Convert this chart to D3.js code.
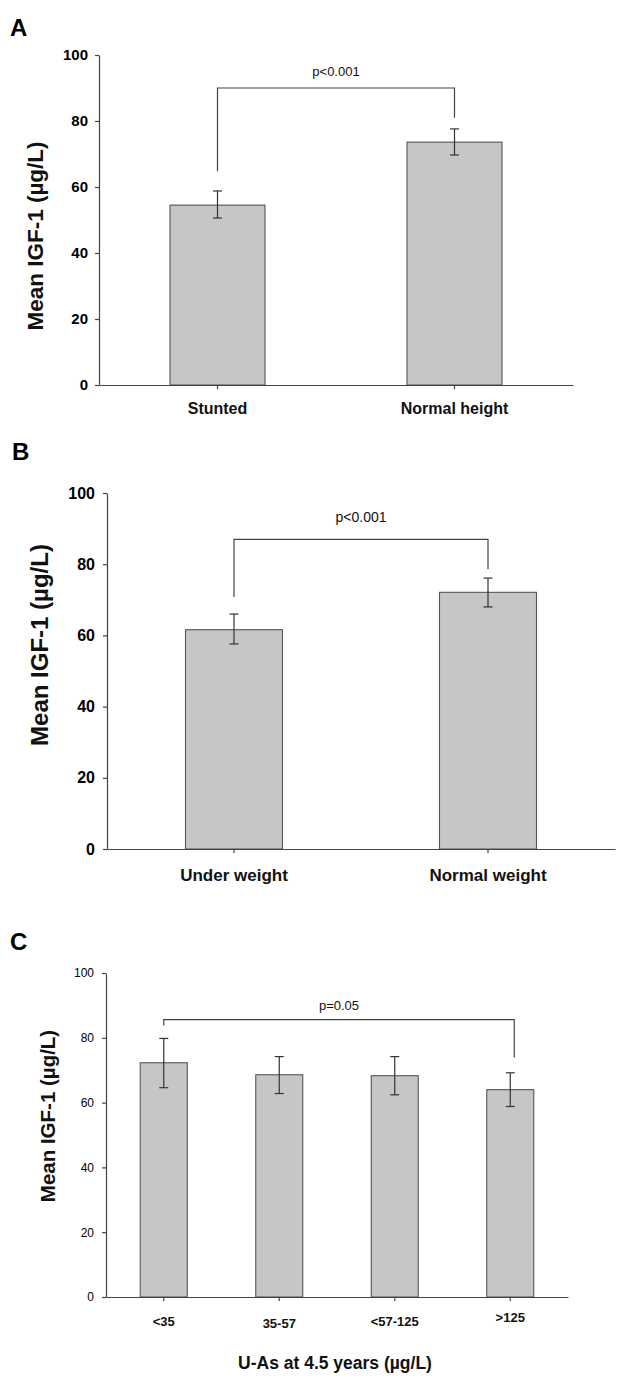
<!DOCTYPE html>
<html><head><meta charset="utf-8">
<script src="https://cdn.jsdelivr.net/npm/d3@7"></script>
<style>
html,body{margin:0;padding:0;background:#fff;}
svg{display:block;font-family:"Liberation Sans",Arial,sans-serif;}
</style></head>
<body>
<script>
// ---- data ----
const yTicks = [0, 20, 40, 60, 80, 100];

const catsA = ["Stunted", "Normal height"];
const meanA = [54.5, 73.6];
const lowA  = [50.6, 69.7];
const highA = [58.8, 77.6];
const bracketA = {label: "p<0.001", level: 90, leftEnd: 64.8, rightEnd: 81.0};

const catsB = ["Under weight", "Normal weight"];
const meanB = [61.6, 72.1];
const lowB  = [57.6, 68.0];
const highB = [66.0, 76.1];
const bracketB = {label: "p<0.001", level: 87, leftEnd: 70.8, rightEnd: 78.6};

const catsC = ["<35", "35-57", "<57-125", ">125"];
const meanC = [72.3, 68.6, 68.3, 64.0];
const lowC  = [64.6, 62.8, 62.4, 58.8];
const highC = [79.8, 74.2, 74.2, 69.2];
const bracketC = {label: "p=0.05", level: 85.6, leftEnd: 83.8, rightEnd: 73.9};

const yTitle = "Mean IGF-1 (\u00b5g/L)";
const xTitleC = "U-As at 4.5 years (\u00b5g/L)";

// ---- drawing ----
const W = 622, H = 1378;
const svg = d3.select("body").append("svg").attr("width", W).attr("height", H);
svg.append("rect").attr("width", W).attr("height", H).attr("fill", "#fff");

function panel(o) {
  const g = svg.append("g");
  const xc = d3.scaleBand().domain(o.cats).range([o.x0, o.x1]);
  const y = d3.scaleLinear().domain([0, 100]).range([o.y0, o.y100]);
  const cx = c => xc(c) + xc.bandwidth() / 2;

  // panel letter
  g.append("text").attr("x", o.letterX).attr("y", o.letterY)
    .attr("font-size", o.letterSize).attr("font-weight", "bold").text(o.letter);

  // bars
  g.selectAll("rect.bar").data(o.cats).join("rect")
    .attr("x", c => cx(c) - o.barW / 2).attr("width", o.barW)
    .attr("y", (c, i) => y(o.mean[i])).attr("height", (c, i) => y(0) - y(o.mean[i]))
    .attr("fill", "#c6c6c6").attr("stroke", "#555").attr("stroke-width", 1.1);

  // error bars
  const eb = g.selectAll("g.eb").data(o.cats).join("g");
  eb.append("line").attr("x1", c => cx(c)).attr("x2", c => cx(c))
    .attr("y1", (c, i) => y(o.low[i])).attr("y2", (c, i) => y(o.high[i]));
  eb.append("line").attr("x1", c => cx(c) - 4.5).attr("x2", c => cx(c) + 4.5)
    .attr("y1", (c, i) => y(o.high[i])).attr("y2", (c, i) => y(o.high[i]));
  eb.append("line").attr("x1", c => cx(c) - 4.5).attr("x2", c => cx(c) + 4.5)
    .attr("y1", (c, i) => y(o.low[i])).attr("y2", (c, i) => y(o.low[i]));
  eb.selectAll("line").attr("stroke", "#333").attr("stroke-width", 1.2);

  // bracket
  const b = o.bracket;
  const lx = cx(o.cats[0]), rx = cx(o.cats[o.cats.length - 1]) + (o.rightShift || 0);
  g.append("path")
    .attr("d", `M${lx},${y(b.leftEnd)}V${y(b.level)}H${rx}V${y(b.rightEnd)}`)
    .attr("fill", "none").attr("stroke", "#444").attr("stroke-width", 1.2);
  g.append("text").attr("x", (lx + rx) / 2).attr("y", y(b.level) - o.pGap)
    .attr("text-anchor", "middle").attr("font-size", o.pSize).attr("fill", "#111").text(b.label);

  // y axis
  const ya = g.append("g").attr("transform", `translate(${o.x0},0)`)
    .call(d3.axisLeft(y).tickValues(yTicks).tickSize(4).tickPadding(o.tickPad).tickSizeOuter(0));
  ya.select(".domain").attr("stroke", "#444").attr("stroke-width", 1.2);
  ya.selectAll(".tick line").attr("stroke", "#444").attr("stroke-width", 1.2);
  ya.selectAll(".tick text").attr("font-size", o.tickSize).attr("font-weight", o.tickWeight)
    .attr("fill", "#000").attr("font-family", "'Liberation Sans',Arial,sans-serif");

  // x axis
  const xa = g.append("g").attr("transform", `translate(0,${o.y0})`)
    .call(d3.axisBottom(xc).tickSize(4).tickSizeOuter(0).tickFormat(""));
  xa.select(".domain").attr("stroke", "#444").attr("stroke-width", 1.2);
  xa.selectAll(".tick line").attr("stroke", "#444").attr("stroke-width", 1.2);

  // category labels
  g.selectAll("text.cat").data(o.cats).join("text").attr("class", "cat")
    .attr("x", c => cx(c)).attr("y", (c, i) => o.catY - ((o.catLift && o.catLift[i]) || 0))
    .attr("text-anchor", "middle").attr("font-size", o.catSize).attr("font-weight", "bold")
    .attr("fill", "#111").text(c => c);

  // y title
  g.append("text").attr("transform", `translate(${o.ytX},${o.ytY}) rotate(-90)`)
    .attr("text-anchor", "middle").attr("font-size", o.ytSize).attr("font-weight", "bold")
    .attr("fill", "#111").text(yTitle);
  return g;
}

panel({letter: "A", letterX: 10, letterY: 36, letterSize: 24,
  cats: catsA, mean: meanA, low: lowA, high: highA, bracket: bracketA,
  x0: 99, x1: 573, y0: 385, y100: 55, barW: 95,
  tickSize: 15, tickWeight: "bold", tickPad: 7,
  catSize: 16, catY: 414, pSize: 13, pGap: 12,
  ytX: 43, ytY: 236, ytSize: 22.5});

panel({letter: "B", letterX: 12, letterY: 460, letterSize: 24,
  cats: catsB, mean: meanB, low: lowB, high: highB, bracket: bracketB,
  x0: 107, x1: 615, y0: 849, y100: 493, barW: 97,
  tickSize: 16, tickWeight: "bold", tickPad: 8,
  catSize: 17, catY: 881, pSize: 14, pGap: 17,
  ytX: 48, ytY: 645, ytSize: 24});

const gC = panel({letter: "C", letterX: 10, letterY: 950, letterSize: 24,
  cats: catsC, mean: meanC, low: lowC, high: highC, bracket: bracketC, rightShift: 4,
  x0: 106, x1: 568, y0: 1297, y100: 973, barW: 47,
  tickSize: 12, tickWeight: "normal", tickPad: 8,
  catSize: 13, catY: 1326, catLift: [0, -2, 0, 4], pSize: 13, pGap: 10,
  ytX: 55, ytY: 1116, ytSize: 20.5});

gC.append("text").attr("x", 335).attr("y", 1369).attr("text-anchor", "middle")
  .attr("font-size", 17.5).attr("font-weight", "bold").attr("fill", "#111").text(xTitleC);
</script>
</body></html>
